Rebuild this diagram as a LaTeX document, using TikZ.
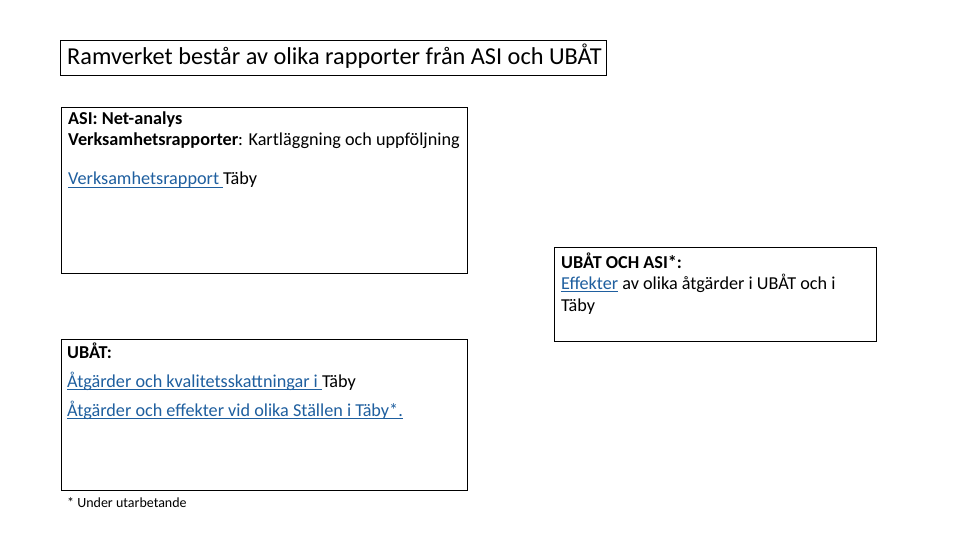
\documentclass[tikz,border=0pt]{standalone}
\usepackage{fontspec}
\setmainfont{Carlito}
\definecolor{linkblue}{HTML}{1F5F9F}
\newsavebox\lnkbox
\newcommand\lnk[1]{\sbox\lnkbox{\color{linkblue}#1}{\color{linkblue}\rlap{\vrule width\wd\lnkbox height -1.9pt depth 3.3pt}}\usebox\lnkbox}
\begin{document}
\begin{tikzpicture}[x=1pt,y=-1pt,
  box/.style={draw=black,line width=0.9pt,anchor=north west,inner sep=0pt},
  txt/.style={anchor=base west,inner sep=0pt,font=\fontsize{18.2}{21}\selectfont}]
\useasboundingbox (0,0) rectangle (960,540);
\fill[white] (0,0) rectangle (960,540);
% title
\node[box,minimum width=546pt,minimum height=35pt] (title) at (60,40) {};
\node[anchor=base west,inner sep=0pt,font=\fontsize{24.3}{28}\selectfont] (titletxt) at (67,65) {Ramverket består av olika rapporter från ASI och UBÅT};
% ASI box
\node[box,minimum width=406pt,minimum height=166pt] (asi) at (61,107) {};
\node[txt] (asi1) at (68,125) {\textbf{ASI: Net-analys}};
\node[txt] (asi2) at (68,146) {\textbf{Verksamhetsrapporter}: Kartläggning och uppföljning};
\node[txt] (asi3) at (68,185) {\lnk{Verksamhetsrapport\ }Täby};
% UBÅT och ASI box
\node[box,minimum width=322pt,minimum height=94pt] (both) at (554,247) {};
\node[txt] (both1) at (561,268) {\textbf{UBÅT OCH ASI*:}};
\node[txt] (both2) at (561,289) {\lnk{Effekter} av olika åtgärder i UBÅT och i};
\node[txt] (both3) at (561,311) {Täby};
% UBÅT box
\node[box,minimum width=406pt,minimum height=151pt] (ubat) at (61,339) {};
\node[txt] (ub1) at (67,358) {\textbf{UBÅT:}};
\node[txt] (ub2) at (67,387) {\lnk{Åtgärder och kvalitetsskattningar i\ }Täby};
\node[txt] (ub3) at (67,416) {\lnk{Åtgärder och effekter vid olika Ställen i Täby*.}};
\node[anchor=base west,inner sep=0pt,font=\fontsize{14}{16}\selectfont] (foot) at (67,507) {* Under utarbetande};
\end{tikzpicture}
\end{document}
